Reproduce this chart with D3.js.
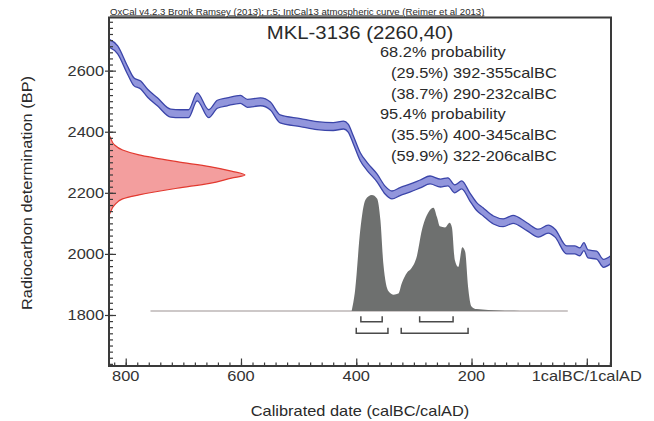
<!DOCTYPE html>
<html>
<head>
<meta charset="utf-8">
<script src="https://cdn.jsdelivr.net/npm/d3@7"></script>
<style>
body { margin: 0; background: #fff; }
text { font-family: "Liberation Sans", Arial, sans-serif; fill: #2a2a2a; }
</style>
</head>
<body>
<svg id="oxcal" width="654" height="421"></svg>
<script>
// OxCal calibration plot, MKL-3136

// IntCal13 curve: calBC year (negative = AD) and radiocarbon age
var curveYear = [829, 814, 797, 786, 774, 762, 745, 722, 705, 691, 676, 656, 641, 624, 601, 589, 566, 549, 532, 497, 468, 440, 422, 414, 405, 393, 381, 364, 350, 338, 324, 306, 289, 272, 254, 241, 229, 217, 203, 191, 180, 162, 145, 128, 104, 84, 67, 55, 35, 21, 12, 5, -2, -17, -29, -42];
var curveBP = [2690, 2668, 2602, 2564, 2553, 2526, 2498, 2461, 2459, 2459, 2514, 2459, 2490, 2498, 2506, 2493, 2498, 2484, 2442, 2430, 2420, 2417, 2422, 2412, 2373, 2318, 2286, 2249, 2209, 2193, 2204, 2216, 2229, 2242, 2232, 2236, 2213, 2226, 2187, 2155, 2138, 2111, 2102, 2113, 2089, 2068, 2081, 2068, 2013, 2013, 2007, 2024, 2000, 1996, 1969, 1982];
var curveSigma = 13;

// measurement 2260 +/- 40 BP, relative probability along BP axis
var dateBP = [2390, 2379, 2357, 2340, 2324, 2302, 2286, 2271, 2258, 2248, 2231, 2215, 2193, 2180, 2160, 2138, 2125];
var dateProb = [0, 0.012, 0.04, 0.1, 0.22, 0.5, 0.74, 0.9, 1.0, 0.9, 0.74, 0.5, 0.22, 0.1, 0.04, 0.012, 0];

// calibrated distribution
var calYear = [408, 402, 393, 384, 373, 364, 358, 353, 344, 335, 327, 321, 312, 304, 295, 286, 275, 266, 260, 255, 246, 238, 234, 229, 223, 216, 211, 206, 200, 191, 151, 116];
var calProb = [0, 0.18, 0.70, 0.96, 1.0, 0.97, 0.78, 0.41, 0.17, 0.14, 0.15, 0.24, 0.33, 0.37, 0.47, 0.70, 0.85, 0.89, 0.81, 0.73, 0.72, 0.76, 0.72, 0.44, 0.38, 0.55, 0.51, 0.21, 0.04, 0.017, 0.004, 0];
var calSpan = [757, 33];

// hpd ranges
var pct68 = ["29.5", "38.7"];
var range68 = [[392, 355], [290, 232]];
var pct95 = ["35.5", "59.9"];
var range95 = [[400, 345], [322, 206]];

var xTicks = [800, 600, 400, 200, 0];
var xTickLabels = ["800", "600", "400", "200", "1calBC/1calAD"];
var yTicks = [1800, 2000, 2200, 2400, 2600];
var yTickLabels = ["1800", "2000", "2200", "2400", "2600"];

var header = "OxCal v4.2.3 Bronk Ramsey (2013); r:5; IntCal13 atmospheric curve (Reimer et al 2013)";
var title = "MKL-3136 (2260,40)";
var xTitle = "Calibrated date (calBC/calAD)";
var yTitle = "Radiocarbon determination (BP)";


var svg = d3.select("#oxcal");
var margin = {top: 17.5, right: 43, bottom: 55, left: 109};
var width = 654 - margin.left - margin.right;
var height = 421 - margin.top - margin.bottom;
var stretch = 1.13; // text in the picture is a bit wide

var x = d3.scaleLinear().domain([829, -42]).range([0, width]);
var y = d3.scaleLinear().domain([1633, 2774]).range([height, 0]);

var g = svg.append("g")
    .attr("transform", "translate(" + margin.left + "," + margin.top + ")");

g.append("clipPath").attr("id", "clip")
    .append("rect").attr("width", width).attr("height", height);
var plot = g.append("g").attr("clip-path", "url(#clip)");

function label(sel, px, py, str, size, anchor) {
    return sel.append("text")
        .attr("transform", "translate(" + px + "," + py + ") scale(" + stretch + ",1)")
        .attr("text-anchor", anchor || "start")
        .attr("font-size", size)
        .text(str);
}

// measured date (red)
var redX = d3.scaleLinear().domain([0, 1]).range([0, 136]);
var red = dateBP.map(function(bp, i) { return {bp: bp, p: dateProb[i]}; });
plot.append("path")
    .datum(red)
    .attr("fill", "#f39e9e")
    .attr("stroke", "#e2392f")
    .attr("stroke-width", 1.2)
    .attr("d", d3.area()
        .curve(d3.curveMonotoneY)
        .y(function(d) { return y(d.bp); })
        .x0(redX(0))
        .x1(function(d) { return redX(d.p); }));

// calibrated distribution (grey)
var base = y(1813);
var calY = d3.scaleLinear().domain([0, 1]).range([base, base - 116]);
var cal = calYear.map(function(yr, i) { return {yr: yr, p: calProb[i]}; });

plot.append("line")
    .attr("x1", x(calSpan[0])).attr("x2", x(calSpan[1]))
    .attr("y1", base).attr("y2", base)
    .attr("stroke", "#bdb6b6")
    .attr("stroke-width", 1.5);

plot.append("path")
    .datum(cal)
    .attr("fill", "#6e706f")
    .attr("d", d3.area()
        .curve(d3.curveMonotoneX)
        .x(function(d) { return x(d.yr); })
        .y0(base)
        .y1(function(d) { return calY(d.p); }));

// range brackets
function brackets(ranges, off) {
    ranges.forEach(function(r) {
        var yl = base + off;
        plot.append("path")
            .attr("fill", "none")
            .attr("stroke", "#4a4a4a")
            .attr("stroke-width", 1.5)
            .attr("d", "M" + x(r[0]) + "," + (yl - 5.5) + "V" + yl + "H" + x(r[1]) + "V" + (yl - 5.5));
    });
}
brackets(range68, 10.7);
brackets(range95, 22.3);

// calibration curve (blue band)
var curve = curveYear.map(function(yr, i) { return {yr: yr, bp: curveBP[i]}; });
plot.append("path")
    .datum(curve)
    .attr("fill", "#9296dc")
    .attr("d", d3.area()
        .curve(d3.curveMonotoneX)
        .x(function(d) { return x(d.yr); })
        .y0(function(d) { return y(d.bp - curveSigma); })
        .y1(function(d) { return y(d.bp + curveSigma); }));

[-curveSigma, curveSigma].forEach(function(s) {
    plot.append("path")
        .datum(curve)
        .attr("fill", "none")
        .attr("stroke", "#3b45a9")
        .attr("stroke-width", 1.3)
        .attr("d", d3.line()
            .curve(d3.curveMonotoneX)
            .x(function(d) { return x(d.yr); })
            .y(function(d) { return y(d.bp + s); }));
});

// axes
function ticks(axis) {
    var a = g.append("g").call(axis);
    a.select(".domain").remove();
    a.selectAll("line").attr("stroke", "#3a3a3a").attr("stroke-width", 1.2);
    return a;
}

ticks(d3.axisRight(y).tickValues(d3.range(1640, 2774, 20)).tickSize(4).tickFormat(""));
ticks(d3.axisRight(y).tickValues(yTicks).tickSize(7).tickFormat(""));
ticks(d3.axisLeft(y).tickValues(yTicks).tickSize(4).tickFormat(""));

ticks(d3.axisTop(x).tickValues(d3.range(820, -42, -20)).tickSize(3.5).tickFormat(""))
    .attr("transform", "translate(0," + height + ")");
ticks(d3.axisTop(x).tickValues(xTicks).tickSize(7.5).tickFormat(""))
    .attr("transform", "translate(0," + height + ")");

g.append("rect")
    .attr("width", width).attr("height", height)
    .attr("fill", "none")
    .attr("stroke", "#3a3a3a")
    .attr("stroke-width", 2);

yTicks.forEach(function(v, i) {
    label(g, -5, y(v) + 5, yTickLabels[i], 14.5, "end").style("fill", "#333");
});
xTicks.forEach(function(v, i) {
    label(g, x(v), height + 14.5, xTickLabels[i], 14.5, "middle").style("fill", "#333");
});

// titles
label(svg, 360, 416, xTitle, 14.5, "middle");
svg.append("text")
    .attr("transform", "translate(31.5,193) rotate(-90) scale(" + stretch + ",1)")
    .attr("text-anchor", "middle")
    .attr("font-size", 14.5)
    .text(yTitle);

label(svg, 110, 14.5, header, 8.5).attr("text-decoration", "underline");
label(svg, 360, 38.5, title, 18, "middle");

// legend
var lines = [
    {t: "68.2% probability", x: 380},
    {t: "(" + pct68[0] + "%) " + range68[0][0] + "-" + range68[0][1] + "calBC", x: 391},
    {t: "(" + pct68[1] + "%) " + range68[1][0] + "-" + range68[1][1] + "calBC", x: 391},
    {t: "95.4% probability", x: 380},
    {t: "(" + pct95[0] + "%) " + range95[0][0] + "-" + range95[0][1] + "calBC", x: 391},
    {t: "(" + pct95[1] + "%) " + range95[1][0] + "-" + range95[1][1] + "calBC", x: 391}
];
lines.forEach(function(l, i) {
    label(svg, l.x, 57 + 20.8 * i, l.t, 14.5);
});
</script>
</body>
</html>
